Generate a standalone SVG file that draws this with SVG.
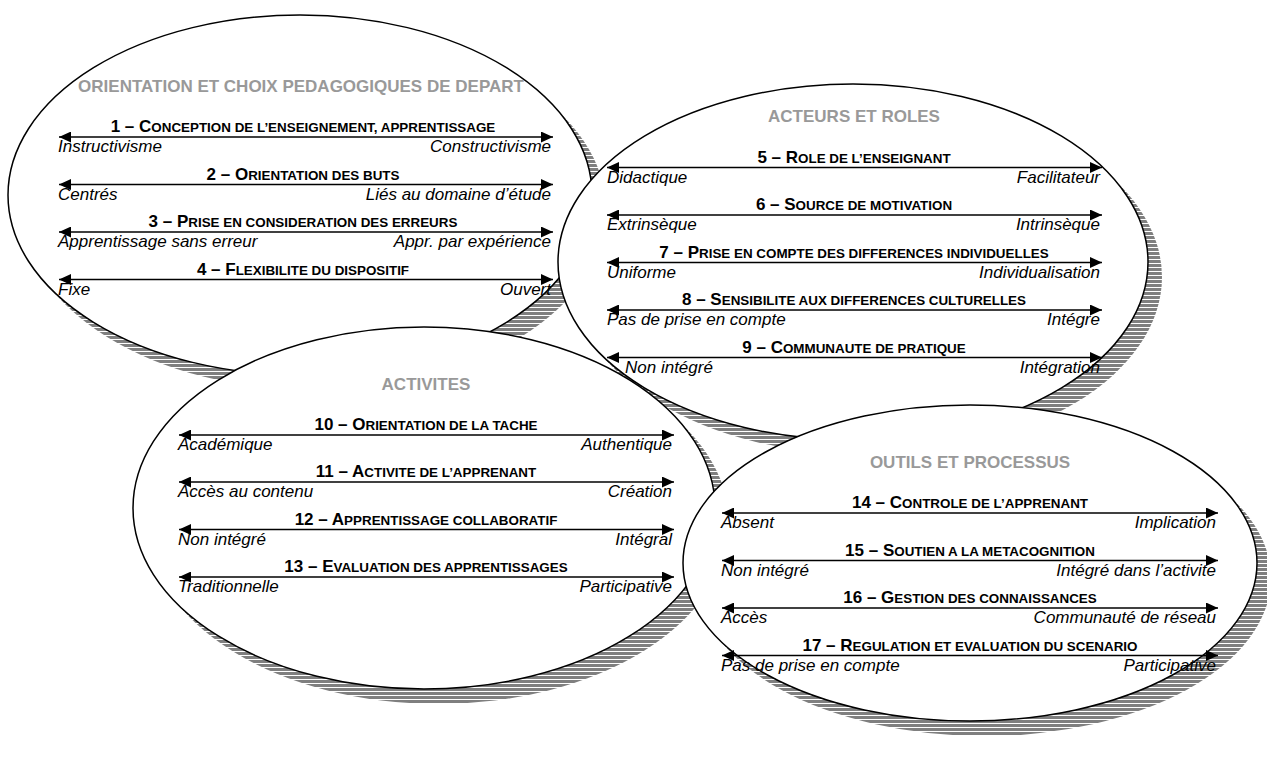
<svg xmlns="http://www.w3.org/2000/svg" width="1267" height="773" viewBox="0 0 1267 773">
<defs>
<pattern id="stripes" patternUnits="userSpaceOnUse" width="10" height="4">
<rect width="10" height="4" fill="#7f7f7f"/>
<rect y="3" width="10" height="1" fill="#ffffff"/>
</pattern>
<marker id="ah" viewBox="0 0 12 11" refX="12" refY="5.5" markerWidth="12" markerHeight="11" markerUnits="userSpaceOnUse" orient="auto-start-reverse">
<path d="M0,0 L12,5.5 L0,11 Z" fill="#000"/>
</marker>
</defs>
<style>
.oval{fill:#fff;stroke:#000;stroke-width:1.5}
.shadow{fill:url(#stripes);stroke:none}
text{font-family:"Liberation Sans",Arial,Helvetica,sans-serif}
.title{font-weight:bold;font-size:17px;fill:#999;text-anchor:middle}
.head{font-weight:bold;font-size:17px;fill:#000;text-anchor:middle}
.sc{font-size:13.4px}
.lab{font-style:italic;font-size:17px;fill:#000}
.r{text-anchor:end}
.scale{stroke:#000;stroke-width:1.5;fill:none;marker-start:url(#ah);marker-end:url(#ah)}
</style>
<rect width="1267" height="773" fill="#fff"/>

<g id="orientation">
<ellipse class="shadow" cx="314" cy="210" rx="292" ry="180"/>
<ellipse class="oval" cx="300" cy="195" rx="292" ry="180"/>
<text class="title" x="301" y="92">ORIENTATION ET CHOIX PEDAGOGIQUES DE DEPART</text>
<g class="scales">
<line class="scale" x1="59" y1="137" x2="553" y2="137"/>
<line class="scale" x1="59" y1="184.5" x2="553" y2="184.5"/>
<line class="scale" x1="59" y1="232" x2="553" y2="232"/>
<line class="scale" x1="59" y1="279.5" x2="553" y2="279.5"/>
</g>
<text class="head" x="303" y="132">1 – C<tspan class="sc">ONCEPTION DE L’ENSEIGNEMENT, APPRENTISSAGE</tspan></text>
<text class="lab" x="58" y="152">Instructivisme</text>
<text class="lab r" x="551" y="152">Constructivisme</text>
<text class="head" x="303" y="179.5">2 – O<tspan class="sc">RIENTATION DES BUTS</tspan></text>
<text class="lab" x="58" y="199.5">Centrés</text>
<text class="lab r" x="551" y="199.5">Liés au domaine d’étude</text>
<text class="head" x="303" y="227">3 – P<tspan class="sc">RISE EN CONSIDERATION DES ERREURS</tspan></text>
<text class="lab" x="58" y="247">Apprentissage sans erreur</text>
<text class="lab r" x="551" y="247">Appr. par expérience</text>
<text class="head" x="303" y="274.5">4 – F<tspan class="sc">LEXIBILITE DU DISPOSITIF</tspan></text>
<text class="lab" x="58" y="294.5">Fixe</text>
<text class="lab r" x="551" y="294.5">Ouvert</text>
</g>

<g id="acteurs">
<ellipse class="shadow" cx="867" cy="277" rx="295" ry="178"/>
<ellipse class="oval" cx="853" cy="262" rx="295" ry="178"/>
<text class="title" x="854" y="121.5">ACTEURS ET ROLES</text>
<g class="scales">
<line class="scale" x1="607" y1="167.5" x2="1102" y2="167.5"/>
<line class="scale" x1="607" y1="215" x2="1102" y2="215"/>
<line class="scale" x1="607" y1="262.5" x2="1102" y2="262.5"/>
<line class="scale" x1="607" y1="310" x2="1102" y2="310"/>
<line class="scale" x1="607" y1="357.5" x2="1102" y2="357.5"/>
</g>
<text class="head" x="854" y="162.5">5 – R<tspan class="sc">OLE DE L’ENSEIGNANT</tspan></text>
<text class="lab" x="607" y="182.5">Didactique</text>
<text class="lab r" x="1100" y="182.5">Facilitateur</text>
<text class="head" x="854" y="210">6 – S<tspan class="sc">OURCE DE MOTIVATION</tspan></text>
<text class="lab" x="607" y="230">Extrinsèque</text>
<text class="lab r" x="1100" y="230">Intrinsèque</text>
<text class="head" x="854" y="257.5">7 – P<tspan class="sc">RISE EN COMPTE DES DIFFERENCES INDIVIDUELLES</tspan></text>
<text class="lab" x="607" y="277.5">Uniforme</text>
<text class="lab r" x="1100" y="277.5">Individualisation</text>
<text class="head" x="854" y="305">8 – S<tspan class="sc">ENSIBILITE AUX DIFFERENCES CULTURELLES</tspan></text>
<text class="lab" x="607" y="325">Pas de prise en compte</text>
<text class="lab r" x="1100" y="325">Intégre</text>
<text class="head" x="854" y="352.5">9 – C<tspan class="sc">OMMUNAUTE DE PRATIQUE</tspan></text>
<text class="lab" x="625" y="373">Non intégré</text>
<text class="lab r" x="1100" y="373">Intégration</text>
</g>

<g id="activites">
<ellipse class="shadow" cx="438" cy="523" rx="291" ry="181"/>
<ellipse class="oval" cx="424" cy="508" rx="291" ry="181"/>
<text class="title" x="426" y="390">ACTIVITES</text>
<g class="scales">
<line class="scale" x1="179" y1="435" x2="674" y2="435"/>
<line class="scale" x1="179" y1="482" x2="674" y2="482"/>
<line class="scale" x1="179" y1="529.5" x2="674" y2="529.5"/>
<line class="scale" x1="179" y1="577" x2="674" y2="577"/>
</g>
<text class="head" x="426" y="430">10 – O<tspan class="sc">RIENTATION DE LA TACHE</tspan></text>
<text class="lab" x="178" y="450">Académique</text>
<text class="lab r" x="672" y="450">Authentique</text>
<text class="head" x="426" y="477">11 – A<tspan class="sc">CTIVITE DE L’APPRENANT</tspan></text>
<text class="lab" x="178" y="497">Accès au contenu</text>
<text class="lab r" x="672" y="497">Création</text>
<text class="head" x="426" y="524.5">12 – A<tspan class="sc">PPRENTISSAGE COLLABORATIF</tspan></text>
<text class="lab" x="178" y="544.5">Non intégré</text>
<text class="lab r" x="672" y="544.5">Intégral</text>
<text class="head" x="426" y="572">13 – E<tspan class="sc">VALUATION DES APPRENTISSAGES</tspan></text>
<text class="lab" x="178" y="592">Traditionnelle</text>
<text class="lab r" x="672" y="592">Participative</text>
</g>

<g id="outils">
<ellipse class="shadow" cx="984" cy="578" rx="287" ry="158"/>
<ellipse class="oval" cx="970" cy="563" rx="287" ry="158"/>
<text class="title" x="970" y="467.5">OUTILS ET PROCESSUS</text>
<g class="scales">
<line class="scale" x1="722" y1="513" x2="1218" y2="513"/>
<line class="scale" x1="722" y1="560.5" x2="1218" y2="560.5"/>
<line class="scale" x1="722" y1="608" x2="1218" y2="608"/>
<line class="scale" x1="722" y1="655.5" x2="1218" y2="655.5"/>
</g>
<text class="head" x="970" y="508">14 – C<tspan class="sc">ONTROLE DE L’APPRENANT</tspan></text>
<text class="lab" x="721" y="528">Absent</text>
<text class="lab r" x="1216" y="528">Implication</text>
<text class="head" x="970" y="555.5">15 – S<tspan class="sc">OUTIEN A LA METACOGNITION</tspan></text>
<text class="lab" x="721" y="575.5">Non intégré</text>
<text class="lab r" x="1216" y="575.5">Intégré dans l’activite</text>
<text class="head" x="970" y="603">16 – G<tspan class="sc">ESTION DES CONNAISSANCES</tspan></text>
<text class="lab" x="721" y="623">Accès</text>
<text class="lab r" x="1216" y="623">Communauté de réseau</text>
<text class="head" x="970" y="650.5">17 – R<tspan class="sc">EGULATION ET EVALUATION DU SCENARIO</tspan></text>
<text class="lab" x="721" y="670.5">Pas de prise en compte</text>
<text class="lab r" x="1216" y="670.5">Participative</text>
</g>
</svg>
